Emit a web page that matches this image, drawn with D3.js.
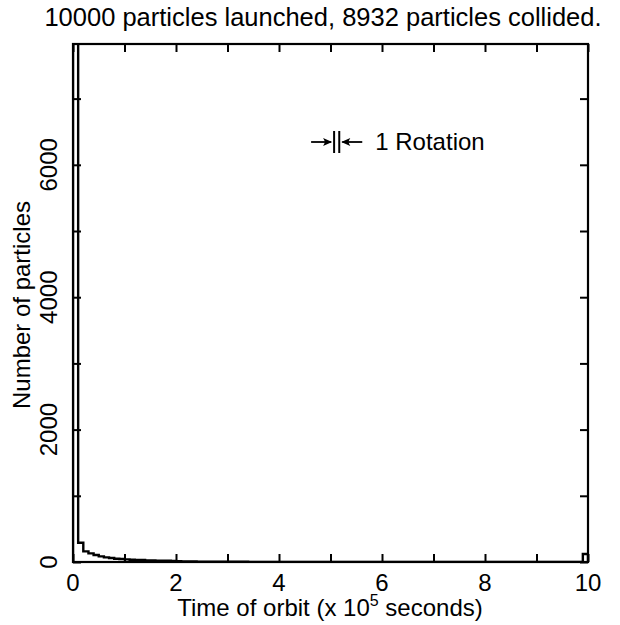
<!DOCTYPE html>
<html><head><meta charset="utf-8">
<script src="https://cdn.jsdelivr.net/npm/d3@7"></script>
<style>body{margin:0;background:#fff}text{font-family:"Liberation Sans",Arial,sans-serif;fill:#000}</style>
</head><body><svg id="c" width="620" height="625"></svg>
<script>
const titleText = "10000 particles launched, 8932 particles collided.";
const binWidth = 0.1;
// histogram counts per 0.1 bin, from 0 to 10
const counts = [
 8000, 290, 160, 130, 105, 85, 70, 60, 50, 45,
 40, 35, 30, 30, 25, 22, 20, 20, 18, 15,
 12, 10, 8, 8, 6, 6, 5, 5, 4, 4,
 3, 3, 3, 3, 2, 2, 2, 2, 2, 2,
 2, 2, 2, 1, 1, 1, 1, 1, 1, 1,
 1, 1, 1, 1, 1, 1, 1, 1, 1, 1,
 1, 1, 1, 1, 1, 1, 1, 1, 1, 1,
 1, 1, 1, 1, 1, 1, 1, 1, 1, 1,
 1, 1, 1, 1, 1, 1, 1, 1, 1, 1,
 1, 1, 1, 1, 1, 1, 1, 1, 1, 120];
const xTicks = [0,1,2,3,4,5,6,7,8,9,10];
const xLabels = [0,2,4,6,8,10];
const yTicks = [0,1000,2000,3000,4000,5000,6000,7000];
const yLabels = [0,2000,4000,6000];
const rotationStart = 5.07, rotationWidth = 0.1;

const svg = d3.select("#c");
const L=73,R=588,T=44,B=562;
const x = d3.scaleLinear().domain([0,10]).range([L,R]);
const y = d3.scaleLinear().domain([0,7825]).range([B,T]);

svg.append("clipPath").attr("id","clip").append("rect").attr("x",L).attr("y",T).attr("width",R-L).attr("height",B-T);

const pts=[[0,0]];
counts.forEach((c,i)=>{pts.push([i*binWidth,c]);pts.push([(i+1)*binWidth,c]);});
pts.push([counts.length*binWidth,0]);
svg.append("path").attr("clip-path","url(#clip)")
  .attr("d",d3.line().x(d=>x(d[0])).y(d=>y(d[1]))(pts))
  .attr("fill","none").attr("stroke","#000").attr("stroke-width",2.4);

svg.append("rect").attr("x",L).attr("y",T).attr("width",R-L).attr("height",B-T)
  .attr("fill","none").attr("stroke","#000").attr("stroke-width",2.2);

const tl=8;
function clean(g){g.select(".domain").remove();g.selectAll("line").attr("stroke-width",2);}
svg.append("g").attr("transform",`translate(0,${B})`).call(d3.axisBottom(x).tickValues(xTicks).tickSize(-tl).tickFormat("")).call(clean);
svg.append("g").attr("transform",`translate(0,${T})`).call(d3.axisTop(x).tickValues(xTicks).tickSize(-tl).tickFormat("")).call(clean);
svg.append("g").attr("transform",`translate(${L},0)`).call(d3.axisLeft(y).tickValues(yTicks).tickSize(-tl).tickFormat("")).call(clean);
svg.append("g").attr("transform",`translate(${R},0)`).call(d3.axisRight(y).tickValues(yTicks).tickSize(-tl).tickFormat("")).call(clean);

const fs=24;
svg.selectAll(".xl").data(xLabels).enter().append("text")
  .attr("x",d=>x(d)).attr("y",591).attr("text-anchor","middle").attr("font-size",fs).text(d=>d);
svg.selectAll(".yl").data(yLabels).enter().append("text")
  .attr("transform",d=>`translate(57,${y(d)}) rotate(-90)`).attr("text-anchor","middle").attr("font-size",fs).text(d=>d);

svg.append("text").attr("x",323).attr("y",26).attr("text-anchor","middle").attr("font-size",25.5).text(titleText);
const xl=svg.append("text").attr("x",330).attr("y",616).attr("text-anchor","middle").attr("font-size",fs);
xl.append("tspan").text("Time of orbit (x 10");
xl.append("tspan").attr("dy",-10).attr("font-size",16).text("5");
xl.append("tspan").attr("dy",10).text(" seconds)");
svg.append("text").attr("transform","translate(30,305) rotate(-90)").attr("text-anchor","middle").attr("font-size",fs).text("Number of particles");

const ay=142, bx0=x(rotationStart), bx1=x(rotationStart+rotationWidth);
svg.append("line").attr("x1",bx0).attr("x2",bx0).attr("y1",ay-11).attr("y2",ay+11).attr("stroke","#000").attr("stroke-width",2);
svg.append("line").attr("x1",bx1).attr("x2",bx1).attr("y1",ay-11).attr("y2",ay+11).attr("stroke","#000").attr("stroke-width",2);
svg.append("line").attr("x1",bx0-23).attr("x2",bx0-3).attr("y1",ay).attr("y2",ay).attr("stroke","#000").attr("stroke-width",1.8);
svg.append("path").attr("d",`M${bx0-2},${ay} L${bx0-11},${ay-4} L${bx0-9},${ay} L${bx0-11},${ay+4} Z`).attr("fill","#000");
svg.append("line").attr("x1",bx1+3).attr("x2",bx1+23).attr("y1",ay).attr("y2",ay).attr("stroke","#000").attr("stroke-width",1.8);
svg.append("path").attr("d",`M${bx1+2},${ay} L${bx1+11},${ay-4} L${bx1+9},${ay} L${bx1+11},${ay+4} Z`).attr("fill","#000");
svg.append("text").attr("x",bx1+36).attr("y",ay+8).attr("font-size",fs).text("1 Rotation");
</script></body></html>
